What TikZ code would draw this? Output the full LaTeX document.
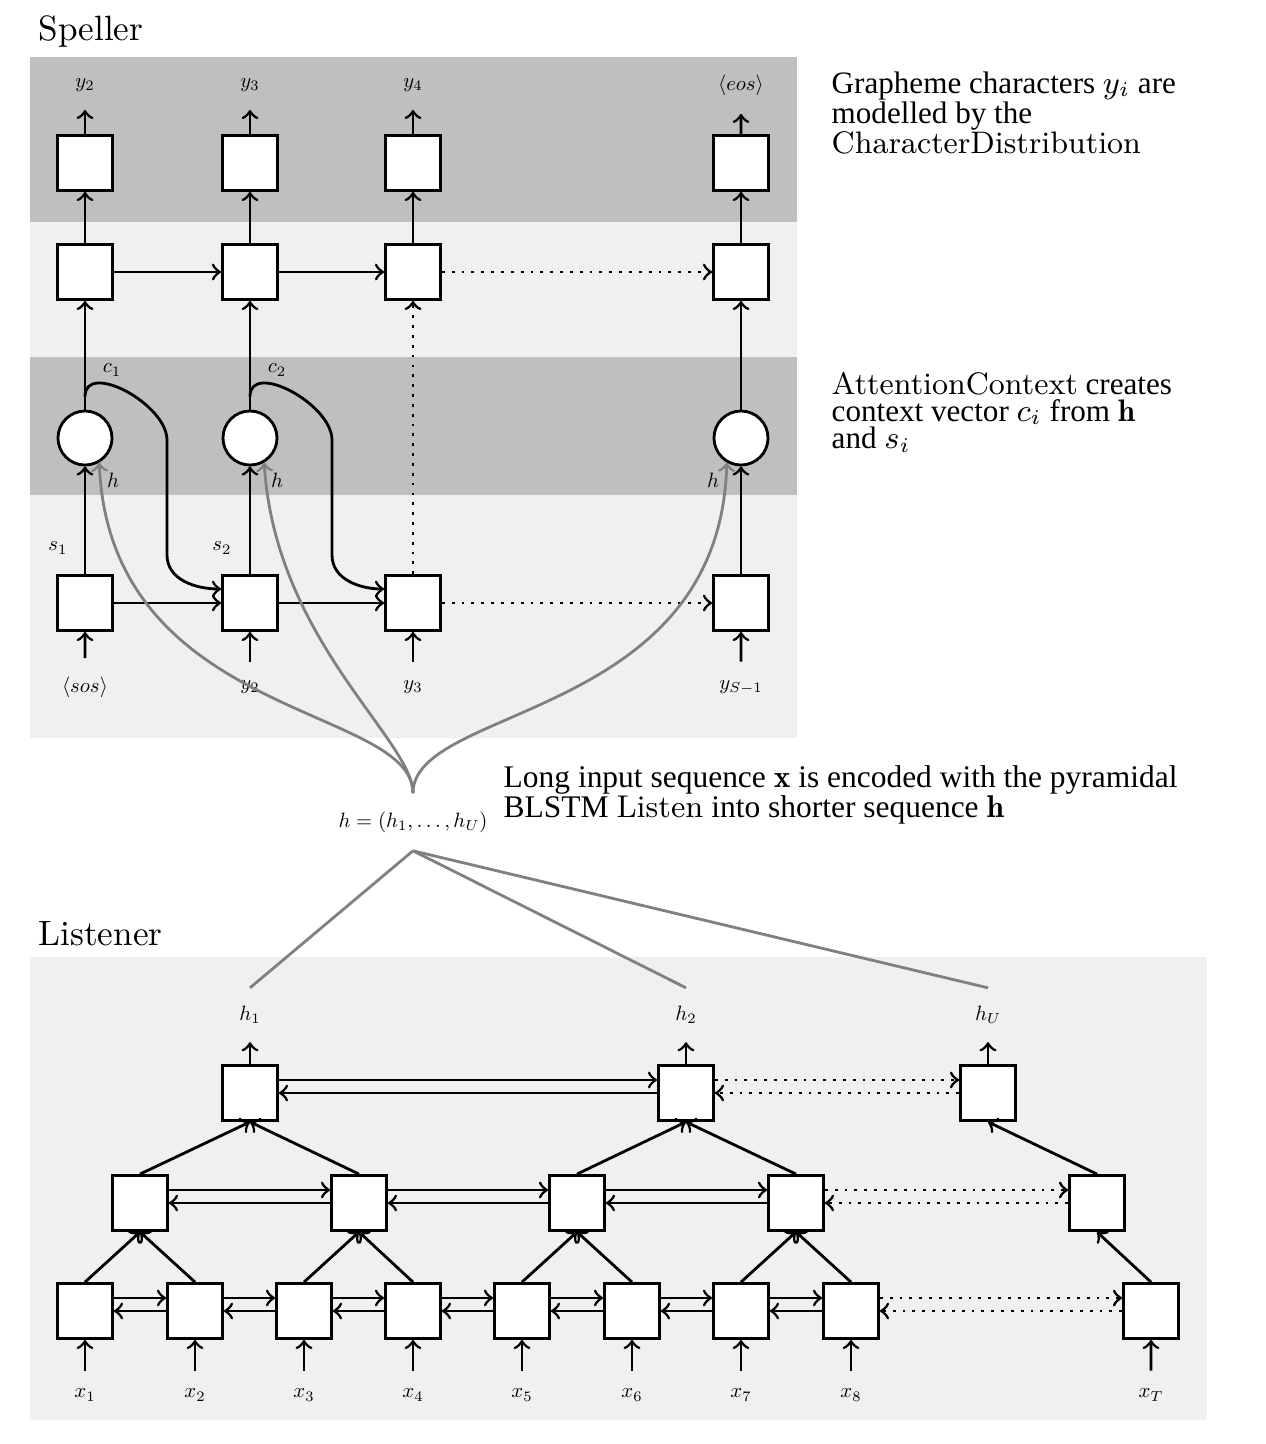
\documentclass[tikz,border=0pt]{standalone}
\usepackage{fontspec}
\newfontfamily\notefont{Liberation Serif}

\begin{document}
\begin{tikzpicture}[x=0.01cm, y=-0.01cm,
  cell/.style={draw,thick,fill=white,minimum size=0.55cm,inner sep=0},
  attn/.style={draw,thick,circle,fill=white,minimum size=0.54cm,inner sep=0},
  lbl/.style={scale=0.59,inner sep=3.05mm},
  note/.style={anchor=north west,inner sep=0,align=left,font=\notefont\fontsize{8.85}{8.5}\selectfont},
  heading/.style={anchor=base west,inner sep=0,font=\fontsize{10}{12}\selectfont},
  flow/.style={->,thick},
  skiparrow/.style={->,thick,dotted},
  hpath/.style={->,thick,gray}]
  \useasboundingbox (0,0) rectangle (1266,1444);

  % bands
  \fill[gray!50] (30,57) rectangle (797,222);
  \fill[black!6] (30,222) rectangle (797,357);
  \fill[gray!50] (30,357) rectangle (797,495);
  \fill[black!6] (30,495) rectangle (797,738);
  \fill[black!6] (30,957) rectangle (1207,1420);

  \node [heading] (spl) at (38,40) {Speller};
  \node [heading] (lst) at (38,945) {Listener};

  % speller
  \node [lbl] (ly2) at (85,85) {$y_2$};
  \node [lbl] (ly3) at (250,85) {$y_3$};
  \node [lbl] (ly4) at (413,85) {$y_4$};
  \node [lbl] (leos) at (741,85) {$\langle eos\rangle$};
  \node [cell] (o1) at (85,163) {};
  \node [cell] (o2) at (250,163) {};
  \node [cell] (o3) at (413,163) {};
  \node [cell] (o4) at (741,163) {};
  \node [cell] (r1) at (85,272) {};
  \node [cell] (r2) at (250,272) {};
  \node [cell] (r3) at (413,272) {};
  \node [cell] (r4) at (741,272) {};
  \node [attn] (a1) at (85,438) {};
  \node [attn] (a2) at (250,438) {};
  \node [attn] (a4) at (741,438) {};
  \node [cell] (d1) at (85,603) {};
  \node [cell] (d2) at (250,603) {};
  \node [cell] (d3) at (413,603) {};
  \node [cell] (d4) at (741,603) {};
  \node [lbl] (lsos) at (85,687) {$\langle sos\rangle$};
  \node [lbl] (lin2) at (250,687) {$y_2$};
  \node [lbl] (lin3) at (413,687) {$y_3$};
  \node [lbl] (linS) at (741,687) {$y_{S-1}$};
  \node [lbl] (lc1) at (112,370) {$c_1$};
  \node [lbl] (lc2) at (277,370) {$c_2$};
  \node [lbl] (ls1) at (58,548) {$s_1$};
  \node [lbl] (ls2) at (222,548) {$s_2$};
  \node [lbl] (lha1) at (113,480) {$h$};
  \node [lbl] (lha2) at (277,480) {$h$};
  \node [lbl] (lha4) at (713,480) {$h$};

  \draw [flow] (o1) -- (ly2);
  \draw [flow] (o2) -- (ly3);
  \draw [flow] (o3) -- (ly4);
  \draw [flow] (o4) -- (leos);
  \draw [flow] (r1) -- (o1);
  \draw [flow] (r2) -- (o2);
  \draw [flow] (r3) -- (o3);
  \draw [flow] (r4) -- (o4);
  \draw [flow] (r1) -- (r2);
  \draw [flow] (r2) -- (r3);
  \draw [skiparrow] (r3) -- (r4);
  \draw [flow] (a1) -- (r1);
  \draw [flow] (a2) -- (r2);
  \draw [flow] (a4) -- (r4);
  \draw [flow] (d1) -- (a1);
  \draw [flow] (d2) -- (a2);
  \draw [skiparrow] (d3) -- (r3);
  \draw [flow] (d4) -- (a4);
  \draw [flow] (d1) -- (d2);
  \draw [flow] (d2) -- (d3);
  \draw [skiparrow] (d3) -- (d4);
  \draw [flow] (lsos) -- (d1);
  \draw [flow] (lin2) -- (d2);
  \draw [flow] (lin3) -- (d3);
  \draw [flow] (linS) -- (d4);
  \draw [flow] ([yshift=0.13cm]a1.north) to[out=90,in=90] (167,440) -- (167,555) to[out=-90,in=180] ([yshift=0.14cm]d2.west);
  \draw [flow] ([yshift=0.13cm]a2.north) to[out=90,in=90] (332,440) -- (332,555) to[out=-90,in=180] ([yshift=0.14cm]d3.west);

  % encoded sequence
  \node [lbl] (hvec) at (413,822) {$h=(h_1,\ldots,h_U)$};
  \draw [hpath] (hvec.north) .. controls (413,705) and (110,720) .. (a1.-60);
  \draw [hpath] (hvec.north) .. controls (413,740) and (275,640) .. (a2.-60);
  \draw [hpath] (hvec.north) .. controls (413,705) and (720,720) .. (a4.-120);

  % listener
  \node [lbl] (lh1) at (250,1015) {$h_1$};
  \node [lbl] (lh2) at (686,1015) {$h_2$};
  \node [lbl] (lhU) at (988,1015) {$h_U$};
  \draw [thick,gray] (hvec.south) -- (lh1.north);
  \draw [thick,gray] (hvec.south) -- (lh2.north);
  \draw [thick,gray] (hvec.south) -- (lhU.north);

  \node [cell] (t1) at (250,1093) {};
  \node [cell] (t2) at (686,1093) {};
  \node [cell] (t3) at (988,1093) {};
  \node [cell] (m1) at (140,1203) {};
  \node [cell] (m2) at (359,1203) {};
  \node [cell] (m3) at (577,1203) {};
  \node [cell] (m4) at (796,1203) {};
  \node [cell] (m5) at (1097,1203) {};
  \node [cell] (b1) at (85,1311) {};
  \node [cell] (b2) at (195,1311) {};
  \node [cell] (b3) at (304,1311) {};
  \node [cell] (b4) at (413,1311) {};
  \node [cell] (b5) at (522,1311) {};
  \node [cell] (b6) at (632,1311) {};
  \node [cell] (b7) at (741,1311) {};
  \node [cell] (b8) at (851,1311) {};
  \node [cell] (b9) at (1151,1311) {};
  \node [lbl] (lx1) at (85,1395) {$x_1$};
  \node [lbl] (lx2) at (195,1395) {$x_2$};
  \node [lbl] (lx3) at (304,1395) {$x_3$};
  \node [lbl] (lx4) at (413,1395) {$x_4$};
  \node [lbl] (lx5) at (522,1395) {$x_5$};
  \node [lbl] (lx6) at (632,1395) {$x_6$};
  \node [lbl] (lx7) at (741,1395) {$x_7$};
  \node [lbl] (lx8) at (851,1395) {$x_8$};
  \node [lbl] (lxT) at (1151,1395) {$x_T$};

  \draw [flow] (t1) -- (lh1);
  \draw [flow] (t2) -- (lh2);
  \draw [flow] (t3) -- (lhU);
  \draw [flow] (lx1) -- (b1);
  \draw [flow] (lx2) -- (b2);
  \draw [flow] (lx3) -- (b3);
  \draw [flow] (lx4) -- (b4);
  \draw [flow] (lx5) -- (b5);
  \draw [flow] (lx6) -- (b6);
  \draw [flow] (lx7) -- (b7);
  \draw [flow] (lx8) -- (b8);
  \draw [flow] (lxT) -- (b9);
  \draw [flow] (b1.north) -- (m1.south);
  \draw [flow] (b2.north) -- (m1.south);
  \draw [flow] (b3.north) -- (m2.south);
  \draw [flow] (b4.north) -- (m2.south);
  \draw [flow] (b5.north) -- (m3.south);
  \draw [flow] (b6.north) -- (m3.south);
  \draw [flow] (b7.north) -- (m4.south);
  \draw [flow] (b8.north) -- (m4.south);
  \draw [flow] (b9.north) -- (m5.south);
  \draw [flow] (m1.north) -- (t1.south);
  \draw [flow] (m2.north) -- (t1.south);
  \draw [flow] (m3.north) -- (t2.south);
  \draw [flow] (m4.north) -- (t2.south);
  \draw [flow] (m5.north) -- (t3.south);

  \draw [flow] ([yshift=0.13cm]t1.east) -- ([yshift=0.13cm]t2.west);
  \draw [flow] (t2) -- (t1);
  \draw [skiparrow] ([yshift=0.13cm]t2.east) -- ([yshift=0.13cm]t3.west);
  \draw [skiparrow] (t3) -- (t2);
  \draw [flow] ([yshift=0.13cm]m1.east) -- ([yshift=0.13cm]m2.west);
  \draw [flow] (m2) -- (m1);
  \draw [flow] ([yshift=0.13cm]m2.east) -- ([yshift=0.13cm]m3.west);
  \draw [flow] (m3) -- (m2);
  \draw [flow] ([yshift=0.13cm]m3.east) -- ([yshift=0.13cm]m4.west);
  \draw [flow] (m4) -- (m3);
  \draw [skiparrow] ([yshift=0.13cm]m4.east) -- ([yshift=0.13cm]m5.west);
  \draw [skiparrow] (m5) -- (m4);
  \draw [flow] ([yshift=0.13cm]b1.east) -- ([yshift=0.13cm]b2.west);
  \draw [flow] (b2) -- (b1);
  \draw [flow] ([yshift=0.13cm]b2.east) -- ([yshift=0.13cm]b3.west);
  \draw [flow] (b3) -- (b2);
  \draw [flow] ([yshift=0.13cm]b3.east) -- ([yshift=0.13cm]b4.west);
  \draw [flow] (b4) -- (b3);
  \draw [flow] ([yshift=0.13cm]b4.east) -- ([yshift=0.13cm]b5.west);
  \draw [flow] (b5) -- (b4);
  \draw [flow] ([yshift=0.13cm]b5.east) -- ([yshift=0.13cm]b6.west);
  \draw [flow] (b6) -- (b5);
  \draw [flow] ([yshift=0.13cm]b6.east) -- ([yshift=0.13cm]b7.west);
  \draw [flow] (b7) -- (b6);
  \draw [flow] ([yshift=0.13cm]b7.east) -- ([yshift=0.13cm]b8.west);
  \draw [flow] (b8) -- (b7);
  \draw [skiparrow] ([yshift=0.13cm]b8.east) -- ([yshift=0.13cm]b9.west);
  \draw [skiparrow] (b9) -- (b8);

  % notes
  \node [note] (n1) at (831,71) {Grapheme characters $y_i$ are\\modelled by the\\\textrm{CharacterDistribution}};
  \node [note,font=\notefont\fontsize{8.85}{7.8}\selectfont] (n2) at (831,371) {\textrm{AttentionContext} creates\\context vector $c_i$ from $\mathbf{h}$\\and $s_i$};
  \node [note,font=\notefont\fontsize{8.95}{8.5}\selectfont] (n3) at (503,765) {Long input sequence $\mathbf{x}$ is encoded with the pyramidal\\BLSTM \textrm{Listen} into shorter sequence $\mathbf{h}$};
\end{tikzpicture}
\end{document}
